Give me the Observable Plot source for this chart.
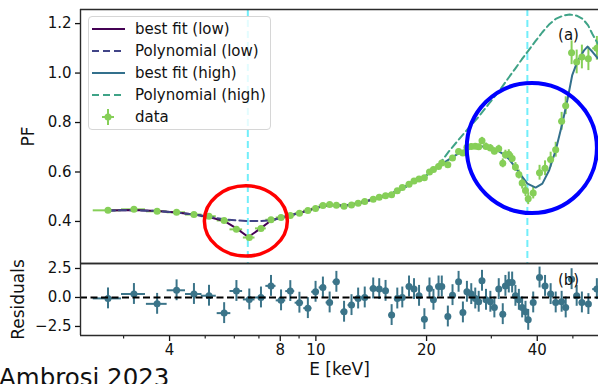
<!DOCTYPE html>
<html><head><meta charset="utf-8">
<script src="https://cdn.jsdelivr.net/npm/d3@7"></script>
<script src="https://cdn.jsdelivr.net/npm/@observablehq/plot@0.6"></script>
<style>
body{margin:0;background:#fff;font-family:"DejaVu Sans",sans-serif;}
#wrap{position:relative;width:598px;height:384px;overflow:hidden;background:#fff;}
#wrap svg{display:block;}
#legend{position:absolute;left:88px;top:16px;width:183px;height:114px;border:1px solid #d6d6d6;border-radius:4px;background:rgba(255,255,255,0.8);box-sizing:border-box;}
.lrow{position:absolute;left:0;height:22px;width:100%;}
.lrow svg{position:absolute;left:3px;top:0;}
.lrow span{position:absolute;left:46px;top:0;line-height:22px;font-size:15px;color:#111;white-space:nowrap;}
#credit{position:absolute;left:-1px;top:366px;font-size:24.5px;line-height:1;color:#111;white-space:nowrap;}
</style></head><body>
<div id="wrap"></div>
<script>
// ---------- data ----------
const energy = [2.72, 3.20, 3.70, 4.18, 4.66, 5.12, 5.63, 6.08, 6.59, 7.09,
  7.55, 8.04, 8.52, 9.02, 9.51, 9.98, 10.45, 10.90, 11.37, 11.93,
  12.50, 13.03, 13.58, 14.32, 14.87, 15.47, 16.07, 16.65, 17.18, 17.92,
  18.49, 19.08, 19.73, 20.37, 20.88, 21.56, 22.00, 22.85, 23.53, 24.44,
  25.11, 25.75, 26.46, 27.13, 27.72, 28.30, 29.02, 29.82, 30.58, 31.43,
  32.23, 32.77, 33.47, 34.18, 34.89, 35.65, 36.39, 37.16, 37.80, 39.00,
  40.58, 42.00, 43.50, 44.90, 46.60, 47.80, 49.60, 51.20, 52.90, 55.10,
  58.10];
const pf = [0.445, 0.449, 0.441, 0.437, 0.428, 0.421, 0.404, 0.368, 0.335, 0.372,
  0.407, 0.416, 0.424, 0.433, 0.444, 0.452, 0.465, 0.469, 0.466, 0.461,
  0.467, 0.474, 0.481, 0.490, 0.498, 0.504, 0.508, 0.524, 0.537, 0.550,
  0.564, 0.572, 0.577, 0.600, 0.610, 0.622, 0.636, 0.629, 0.657, 0.683,
  0.677, 0.700, 0.703, 0.704, 0.702, 0.726, 0.703, 0.697, 0.684, 0.694,
  0.635, 0.670, 0.672, 0.655, 0.620, 0.590, 0.555, 0.525, 0.492, 0.515,
  0.597, 0.615, 0.650, 0.690, 0.805, 0.868, 1.082, 1.045, 1.065, 1.058,
  1.100];
const pfErr = [0.004, 0.004, 0.004, 0.004, 0.004, 0.004, 0.004, 0.004, 0.004, 0.004,
  0.004, 0.004, 0.004, 0.004, 0.004, 0.004, 0.006, 0.006, 0.006, 0.006,
  0.006, 0.006, 0.006, 0.006, 0.006, 0.006, 0.006, 0.006, 0.006, 0.006,
  0.006, 0.006, 0.006, 0.010, 0.010, 0.010, 0.010, 0.010, 0.010, 0.010,
  0.010, 0.010, 0.010, 0.010, 0.010, 0.014, 0.014, 0.014, 0.014, 0.014,
  0.018, 0.018, 0.018, 0.018, 0.018, 0.018, 0.024, 0.024, 0.024, 0.024,
  0.030, 0.030, 0.030, 0.030, 0.036, 0.036, 0.048, 0.048, 0.048, 0.048,
  0.048];
const eHalf = [0.24, 0.24, 0.24, 0.24, 0.24, 0.24, 0.24, 0.24, 0.24, 0.24,
  0.24, 0.24, 0.24, 0.24, 0.24, 0.24, 0.24, 0.24, 0.24, 0.24,
  0.27, 0.27, 0.27, 0.27, 0.27, 0.27, 0.27, 0.27, 0.30, 0.30,
  0.30, 0.30, 0.30, 0.30, 0.30, 0.30, 0.30, 0.33, 0.33, 0.33,
  0.33, 0.33, 0.33, 0.33, 0.33, 0.33, 0.33, 0.33, 0.33, 0.33,
  0.37, 0.37, 0.37, 0.37, 0.37, 0.37, 0.37, 0.37, 0.37, 0.60,
  0.72, 0.72, 0.72, 0.72, 0.80, 0.80, 0.80, 0.80, 0.80, 1.10,
  1.50];
const residual = [-0.08, 0.30, -0.55, 0.62, 0.30, 0.15, -1.35, 0.56, -0.17, 0.00,
  1.00, -0.25, 0.55, -0.45, -0.92, 0.49, 0.86, -0.43, 1.35, -1.23,
  -0.66, -0.09, 0.00, 0.78, 0.72, 0.57, -1.52, -0.09, 0.00, 0.95,
  0.72, 0.14, -1.87, 0.78, -0.20, 0.95, 0.95, -1.64, 0.20, 1.35,
  -1.29, 0.49, 0.29, -0.09, -0.37, 1.44, -0.20, -0.37, -0.86, 0.72,
  -1.44, 1.00, 1.29, 1.29, 0.14, -0.20, -0.86, -1.23, -1.93, -0.43,
  1.72, 1.00, 0.29, -0.43, -0.37, -0.86, 1.58, 0.14, -0.43, -0.57,
  0.72];
const residualErr = 0.9;

const fitLowE = [2.72, 3.20, 3.70, 4.18, 4.66, 5.12, 5.63, 6.08, 6.55, 7.09,
  7.55, 8.04, 8.52, 9.02, 9.51, 9.98, 10.45, 10.90, 11.37, 11.93,
  12.50, 13.58, 14.87, 16.07, 17.18, 18.49, 19.73];
const fitLowPF = [0.444, 0.446, 0.442, 0.436, 0.428, 0.418, 0.402, 0.372, 0.337, 0.373,
  0.404, 0.416, 0.425, 0.434, 0.444, 0.453, 0.462, 0.466, 0.466, 0.464,
  0.467, 0.480, 0.497, 0.512, 0.533, 0.560, 0.580];
const polyLowPF = [0.444, 0.446, 0.442, 0.436, 0.428, 0.419, 0.409, 0.404, 0.402, 0.402,
  0.405, 0.414, 0.425, 0.434, 0.444, 0.453, 0.462, 0.466, 0.466, 0.464,
  0.467, 0.480, 0.497, 0.512, 0.533, 0.560, 0.580];
const fitHighE = [16.07, 17.18, 18.49, 19.73, 20.88, 22.00, 23.53, 25.11, 26.46, 27.72,
  29.02, 30.58, 31.40, 32.50, 33.50, 34.50, 35.60, 37.60,
  39.60, 41.30, 43.10, 44.90, 46.80, 48.30, 49.80, 51.40, 53.70, 54.80, 56.50, 58.40];
const fitHighPF = [0.512, 0.533, 0.560, 0.580, 0.608, 0.632, 0.660, 0.685, 0.698, 0.703,
  0.703, 0.693, 0.684, 0.670, 0.652, 0.628, 0.600, 0.553,
  0.537, 0.553, 0.607, 0.688, 0.796, 0.890, 0.992, 1.046, 1.093, 1.107, 1.086, 1.060];
const polyHighE = [16.07, 17.18, 18.49, 19.73, 20.88, 22.00, 23.00, 24.40, 26.00, 27.70,
  29.60, 31.60, 33.20, 34.90, 36.30, 37.80, 39.50, 41.30, 43.00, 44.90,
  47.00, 49.00, 51.20, 53.20, 55.00, 56.50, 58.50];
const polyHighPF = [0.512, 0.533, 0.560, 0.580, 0.610, 0.645, 0.683, 0.729, 0.777, 0.823,
  0.877, 0.930, 0.975, 1.019, 1.055, 1.090, 1.128, 1.165, 1.195, 1.219,
  1.232, 1.237, 1.232, 1.219, 1.193, 1.158, 1.118];

const lineEnergies = [6.53, 37.6];           // cyan marker lines (keV)
const ringE0 = [4.99, 25.8], ringE1 = [8.39, 58.3];     // highlight ellipses (keV)
const ringPF0 = [0.258, 0.432], ringPF1 = [0.542, 0.958]; // highlight ellipses (PF)

const pfTicks = [0.4, 0.6, 0.8, 1.0, 1.2];
const resTicks = [-2.5, 0, 2.5];
const xMajorTicks = [4, 8, 10, 20, 40];
const xMinorTicks = [3, 5, 6, 7, 9, 30, 50];
const legendLabels = ["best fit (low)", "Polynomial (low)", "best fit (high)", "Polynomial (high)", "data"];

const xDomain = [2.29, 58.7];
const pfDomain = [0.230, 1.257];
const resDomain = [-3.28, 2.93];

// ---------- styles ----------
const C = {lowFit: "#440154", polyLow: "#414487", highFit: "#33708c", polyHigh: "#3fa387",
  data: "#86cf58", res: "#3b7489", cyan: "#72eefa", frame: "#2b2b2b"};
const ringColors = ["#ff0000", "#0000ff"], ringWidths = [3.5, 4];
const baseStyle = {fontFamily: "DejaVu Sans, sans-serif", fontSize: "15px", color: "#111",
  background: "transparent", overflow: "visible"};

const rows = energy.map((e, i) => ({e, pf: pf[i], err: pfErr[i], dx: eHalf[i], res: residual[i]}));
const toPts = (E, V) => E.map((e, i) => ({e, v: V[i]}));
const lowFit = toPts(fitLowE, fitLowPF), polyLow = toPts(fitLowE, polyLowPF);
const highFit = toPts(fitHighE, fitHighPF), polyHigh = toPts(polyHighE, polyHighPF);

const topChart = Plot.plot({
  width: 598, height: 263, marginLeft: 80, marginRight: 0, marginTop: 9, marginBottom: 0,
  style: baseStyle,
  x: {type: "log", domain: xDomain, axis: null, label: null},
  y: {domain: pfDomain, label: null},
  marks: [
    Plot.axisY({ticks: pfTicks, tickFormat: d3.format(".1f"), tickSize: 5, tickPadding: 4, strokeWidth: 1.3, label: null}),
    Plot.ruleX(lineEnergies, {stroke: C.cyan, strokeWidth: 2, strokeDasharray: "7,4"}),
    Plot.ruleY(rows, {y: "pf", x1: d => d.e - d.dx, x2: d => d.e + d.dx, stroke: C.data, strokeWidth: 2}),
    Plot.ruleX(rows, {x: "e", y1: d => d.pf - d.err, y2: d => d.pf + d.err, stroke: C.data, strokeWidth: 2}),
    Plot.line(lowFit, {x: "e", y: "v", stroke: C.lowFit, strokeWidth: 2}),
    Plot.line(polyLow, {x: "e", y: "v", stroke: C.polyLow, strokeWidth: 2, strokeDasharray: "7,4"}),
    Plot.line(highFit, {x: "e", y: "v", stroke: C.highFit, strokeWidth: 2}),
    Plot.line(polyHigh, {x: "e", y: "v", stroke: C.polyHigh, strokeWidth: 2, strokeDasharray: "7,4"}),
    Plot.dot(rows, {x: "e", y: "pf", r: 3.5, fill: C.data, stroke: "none"}),
    Plot.ruleX([xDomain[0]], {stroke: C.frame, strokeWidth: 1.4}),
    Plot.ruleY([pfDomain[1]], {stroke: C.frame, strokeWidth: 1.4}),
    Plot.ruleY([pfDomain[0]], {stroke: C.frame, strokeWidth: 1.4}),
    Plot.text(["(a)"], {frameAnchor: "top-right", textAnchor: "middle", dx: -30, dy: 20, fontSize: 15, fill: "#111"}),
    Plot.text(["PF"], {frameAnchor: "left", textAnchor: "middle", dx: -52, rotate: -90, fontSize: 17, fill: "#111"})
  ]
});

const bottomChart = Plot.plot({
  width: 598, height: 121, marginLeft: 80, marginRight: 0, marginTop: 0, marginBottom: 49,
  style: baseStyle,
  x: {type: "log", domain: xDomain, label: null},
  y: {domain: resDomain, label: null},
  marks: [
    Plot.axisY({ticks: resTicks, tickFormat: d3.format(".1f"), tickSize: 5, tickPadding: 4, strokeWidth: 1.3, label: null}),
    Plot.axisX({ticks: xMajorTicks, tickFormat: d => String(d), tickSize: 6, tickPadding: 3, strokeWidth: 1.3, label: null}),
    Plot.axisX({ticks: xMinorTicks, tickFormat: () => "", tickSize: 3.5, strokeWidth: 1.1, label: null}),
    Plot.ruleY(rows, {y: "res", x1: d => d.e - d.dx, x2: d => d.e + d.dx, stroke: C.res, strokeWidth: 2}),
    Plot.ruleX(rows, {x: "e", y1: d => d.res - residualErr, y2: d => d.res + residualErr, stroke: C.res, strokeWidth: 2}),
    Plot.dot(rows, {x: "e", y: "res", r: 3.5, fill: C.res, stroke: "none"}),
    Plot.ruleY([0], {stroke: "#000", strokeWidth: 2, strokeDasharray: "7,3.5"}),
    Plot.ruleX([xDomain[0]], {stroke: C.frame, strokeWidth: 1.4}),
    Plot.ruleY([resDomain[1]], {stroke: C.frame, strokeWidth: 1.4}),
    Plot.ruleY([resDomain[0]], {stroke: C.frame, strokeWidth: 1.4}),
    Plot.text(["(b)"], {frameAnchor: "top-right", textAnchor: "middle", dx: -30, dy: 11, fontSize: 15, fill: "#111"}),
    Plot.text(["Residuals"], {frameAnchor: "left", textAnchor: "middle", dx: -62, rotate: -90, fontSize: 17, fill: "#111"}),
    Plot.text(["E [keV]"], {frameAnchor: "bottom", dy: 39, fontSize: 17, fill: "#111"})
  ]
});

// highlight ellipses, positioned through the chart's own scales
const sx = topChart.scale("x"), sy = topChart.scale("y");
const ringG = d3.select(topChart).append("g").attr("fill", "none");
ringE0.forEach((e0, i) => {
  const x0 = sx.apply(e0), x1 = sx.apply(ringE1[i]);
  const y0 = sy.apply(ringPF0[i]), y1 = sy.apply(ringPF1[i]);
  ringG.append("ellipse")
    .attr("cx", (x0 + x1) / 2).attr("cy", (y0 + y1) / 2)
    .attr("rx", Math.abs(x1 - x0) / 2).attr("ry", Math.abs(y1 - y0) / 2)
    .attr("stroke", ringColors[i]).attr("stroke-width", ringWidths[i]);
});

const wrap = document.getElementById("wrap");
wrap.appendChild(topChart);
wrap.appendChild(bottomChart);

// legend
const legend = document.createElement("div");
legend.id = "legend";
const legendStyles = [
  {stroke: C.lowFit, dash: null}, {stroke: C.polyLow, dash: "7,4"},
  {stroke: C.highFit, dash: null}, {stroke: C.polyHigh, dash: "7,4"}, {data: true}
];
legendLabels.forEach((label, i) => {
  const row = document.createElement("div");
  row.className = "lrow";
  row.style.top = (1 + i * 22) + "px";
  const s = legendStyles[i];
  let svg;
  if (s.data) {
    svg = `<svg width="34" height="22"><line x1="10" x2="22" y1="11" y2="11" stroke="${C.data}" stroke-width="2"/><line x1="16" x2="16" y1="3" y2="19" stroke="${C.data}" stroke-width="2"/><circle cx="16" cy="11" r="3.5" fill="${C.data}"/></svg>`;
  } else {
    svg = `<svg width="34" height="22"><line x1="0" x2="33" y1="11" y2="11" stroke="${s.stroke}" stroke-width="2" ${s.dash ? `stroke-dasharray="${s.dash}"` : ""}/></svg>`;
  }
  row.innerHTML = svg + `<span>${label}</span>`;
  legend.appendChild(row);
});
wrap.appendChild(legend);

const credit = document.createElement("div");
credit.id = "credit";
credit.textContent = "Ambrosi 2023";
wrap.appendChild(credit);
</script>
</body></html>
